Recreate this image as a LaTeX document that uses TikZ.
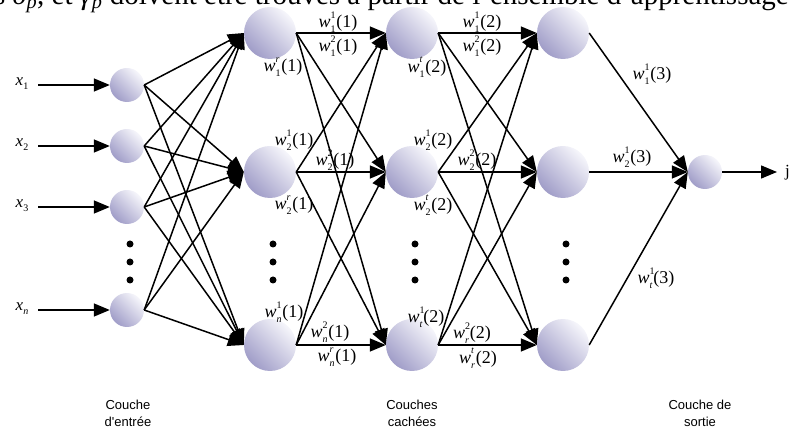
\documentclass[tikz,border=0pt]{standalone}
\usepackage{fontspec}
\setmainfont{Liberation Serif}
\newfontfamily\labsans{Liberation Sans}
\usetikzlibrary{arrows.meta}

\definecolor{lav}{RGB}{160,157,200}
\definecolor{lavlight}{RGB}{246,246,251}

% small script size for indices
\newcommand{\wsc}{\fontsize{10}{10}\selectfont}
% weight label: w with superscript #1, subscript #2 and layer #3
\newcommand{\wt}[3]{\textit{w}\makebox[0pt][l]{\raisebox{1.15ex}{\wsc #1}}\raisebox{-0.6ex}{\wsc #2}\hspace{0.05em}(#3)}
\newcommand{\xin}[1]{\textit{x}\raisebox{-0.5ex}{\wsc #1}}

\tikzset{
  neuron/.style={circle, inner sep=0pt, minimum size=#1,
    top color=lavlight, bottom color=lav, shading angle=-45},
  conn/.style={line width=1.5pt, -{Triangle[length=16pt,width=13pt]}},
  wlab/.style={inner sep=0pt, font=\fontsize{18}{18}\selectfont},
  inlab/.style={inner sep=0pt, font=\fontsize{17}{17}\selectfont},
  layerlab/.style={align=center, font=\labsans\fontsize{13}{17}\selectfont},
  dotmark/.style={circle, fill=black, inner sep=0pt, minimum size=7pt},
}

\begin{document}
\begin{tikzpicture}[x=1pt, y=-1pt]
\useasboundingbox (0,0) rectangle (793,430);
\clip (0,0) rectangle (793,430);

% line of running text above the figure
\node[anchor=base west, inner sep=0pt, font=\fontsize{29}{29}\selectfont] at (-6,5)
  {s \textit{δ}\textsubscript{\textit{p}}, et \textit{γ}\textsubscript{\textit{p}} doivent être trouvés à partir de l'ensemble d'apprentissage};

% input layer
\node[neuron=34pt] (in1) at (127,85) {};
\node[neuron=34pt] (in2) at (127,146) {};
\node[neuron=34pt] (in3) at (127,207) {};
\node[neuron=34pt] (in4) at (127,310) {};

% hidden layers
\foreach \c/\xx in {a/270, b/412, c/563} {
  \node[neuron=52pt] (\c1) at (\xx,33) {};
  \node[neuron=52pt] (\c2) at (\xx,172) {};
  \node[neuron=52pt] (\c3) at (\xx,345) {};
}

% output neuron
\node[neuron=34pt] (out) at (705,172) {};

% vertical ellipsis dots
\foreach \xx in {130, 273, 415, 566} {
  \node[dotmark] (d1\xx) at (\xx,244) {};
  \node[dotmark] (d2\xx) at (\xx,262) {};
  \node[dotmark] (d3\xx) at (\xx,280) {};
}

% inputs
\node[inlab] (x1) at (22,84) {\xin{1}};
\node[inlab] (x2) at (22,145) {\xin{2}};
\node[inlab] (x3) at (22,206) {\xin{3}};
\node[inlab] (x4) at (22,309) {\xin{\textit{n}}};
\coordinate (s1) at (38,85);
\coordinate (s2) at (38,146);
\coordinate (s3) at (38,207);
\coordinate (s4) at (38,310);
\foreach \i in {1,2,3,4} \draw[conn] (s\i) -- (in\i.west);

% fully connected layers
\foreach \s in {in1,in2,in3,in4}
  \foreach \t in {a1,a2,a3}
    \draw[conn] (\s.east) -- (\t.west);
\foreach \s in {a1,a2,a3}
  \foreach \t in {b1,b2,b3}
    \draw[conn] (\s.east) -- (\t.west);
\foreach \s in {b1,b2,b3}
  \foreach \t in {c1,c2,c3}
    \draw[conn] (\s.east) -- (\t.west);
\foreach \s in {c1,c2,c3}
  \draw[conn] (\s.east) -- (out.west);

% output
\coordinate (yend) at (777,172);
\draw[conn] (out.east) -- (yend);
\node[anchor=west, inner sep=0pt, font=\fontsize{17}{17}\selectfont] (ylab) at (785,173) {j};

% weights, first hidden layer
\node[wlab] at (338,22) {\wt{1}{1}{1}};
\node[wlab] at (338,46) {\wt{2}{1}{1}};
\node[wlab] at (283,67) {\wt{\textit{r}}{1}{1}};
\node[wlab] at (294,140) {\wt{1}{2}{1}};
\node[wlab] at (335,160) {\wt{2}{2}{1}};
\node[wlab] at (294,205) {\wt{\textit{r}}{2}{1}};
\node[wlab] at (284,312) {\wt{1}{\textit{n}}{1}};
\node[wlab] at (330,332) {\wt{2}{\textit{n}}{1}};
\node[wlab] at (337,357) {\wt{\textit{r}}{\textit{n}}{1}};

% weights, second hidden layer
\node[wlab] at (482,22) {\wt{1}{1}{2}};
\node[wlab] at (482,46) {\wt{2}{1}{2}};
\node[wlab] at (427,67) {\wt{\textit{t}}{1}{2}};
\node[wlab] at (433,140) {\wt{1}{2}{2}};
\node[wlab] at (477,160) {\wt{2}{2}{2}};
\node[wlab] at (433,205) {\wt{\textit{t}}{2}{2}};
\node[wlab] at (426,317) {\wt{1}{\textit{t}}{2}};
\node[wlab] at (472,333) {\wt{2}{\textit{r}}{2}};
\node[wlab] at (478,358) {\wt{\textit{t}}{\textit{r}}{2}};

% weights, output layer
\node[wlab] at (652,74) {\wt{1}{1}{3}};
\node[wlab] at (632,157) {\wt{1}{2}{3}};
\node[wlab] at (656,278) {\wt{1}{\textit{t}}{3}};

% layer captions
\node[layerlab] (cap1) at (128,413) {Couche\\d'entrée};
\node[layerlab] (cap2) at (412,413) {Couches\\cachées};
\node[layerlab] (cap3) at (700,413) {Couche de\\sortie};
\end{tikzpicture}
\end{document}
